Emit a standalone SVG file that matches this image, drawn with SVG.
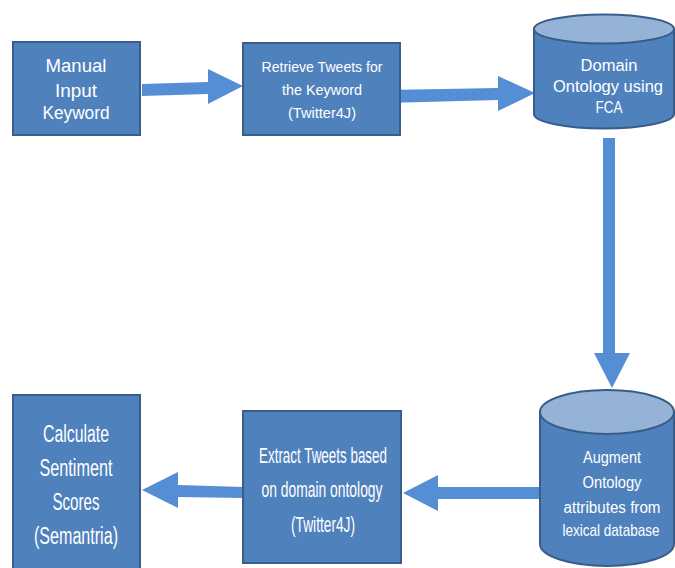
<svg xmlns="http://www.w3.org/2000/svg" width="675" height="568" viewBox="0 0 675 568">
<style>
.box{fill:#4F81BD;stroke:#385D8A;stroke-width:2}
.cyl{fill:#4F81BD;stroke:#385D8A;stroke-width:2}
.top{fill:#95B3D7;stroke:#385D8A;stroke-width:2}
.arr{fill:#558ED5;stroke:none}
text{font-family:"Liberation Sans",Arial,sans-serif;fill:#FFFFFF;text-anchor:middle}
.t1{font-size:18px}
.t2{font-size:15px}
.t3{font-size:16px}
.t4{font-size:23px}
.t5{font-size:22px}
.t6{font-size:16px}
</style>
<rect width="675" height="568" fill="#FFFFFF"/>
<g id="connectors">
<polygon class="arr" points="142,84 208,82 208,69 243,86 208,104 208,94 142,96"/>
<polygon class="arr" points="386,90 498,88 498,76 535,93 498,111 498,100 386,103"/>
<polygon class="arr" points="603,138 615,138 615,353 630,353 612,388 594,353 603,353"/>
<polygon class="arr" points="540,487 438,487 438,475 403,493 438,511 438,499 540,499"/>
<polygon class="arr" points="243,487 178,485 178,472 142,490 178,508 178,497 243,498"/>
</g>
<g id="manual-input">
<rect class="box" x="13" y="42" width="127" height="93"/>
<text class="t1" x="76" y="72" textLength="61" lengthAdjust="spacingAndGlyphs">Manual</text>
<text class="t1" x="76" y="97" textLength="42" lengthAdjust="spacingAndGlyphs">Input</text>
<text class="t1" x="76" y="119" textLength="67" lengthAdjust="spacingAndGlyphs">Keyword</text>
</g>
<g id="retrieve-tweets">
<rect class="box" x="243" y="43" width="157" height="92"/>
<text class="t2" x="322" y="72" textLength="121" lengthAdjust="spacingAndGlyphs">Retrieve Tweets for</text>
<text class="t2" x="322" y="95" textLength="80" lengthAdjust="spacingAndGlyphs">the Keyword</text>
<text class="t2" x="322" y="118" textLength="68" lengthAdjust="spacingAndGlyphs">(Twitter4J)</text>
</g>
<g id="domain-ontology">
<path class="cyl" d="M534,29 L534,114 A70,14.5 0 0 0 674,114 L674,29 Z"/>
<ellipse class="top" cx="604" cy="29" rx="70" ry="14.5"/>
<text class="t3" x="609" y="71" textLength="57" lengthAdjust="spacingAndGlyphs">Domain</text>
<text class="t3" x="608" y="92" textLength="110" lengthAdjust="spacingAndGlyphs">Ontology using</text>
<text class="t3" x="609" y="113" textLength="27" lengthAdjust="spacingAndGlyphs">FCA</text>
</g>
<g id="augment-ontology">
<path class="cyl" d="M540,412 L540,544 A67,22 0 0 0 674,544 L674,412 Z"/>
<ellipse class="top" cx="607" cy="412" rx="67" ry="22"/>
<text class="t6" x="612" y="463" textLength="58" lengthAdjust="spacingAndGlyphs">Augment</text>
<text class="t6" x="612" y="488" textLength="59" lengthAdjust="spacingAndGlyphs">Ontology</text>
<text class="t6" x="612" y="513" textLength="97" lengthAdjust="spacingAndGlyphs">attributes from</text>
<text class="t6" x="0" y="0" transform="translate(611,536) scale(0.845,1)">lexical database</text>
</g>
<g id="extract-tweets">
<rect class="box" x="243" y="411" width="158" height="152"/>
<text class="t5" x="323" y="463" textLength="128" lengthAdjust="spacingAndGlyphs">Extract Tweets based</text>
<text class="t5" x="322" y="497" textLength="121" lengthAdjust="spacingAndGlyphs">on domain ontology</text>
<text class="t5" x="323" y="532" textLength="64" lengthAdjust="spacingAndGlyphs">(Twitter4J)</text>
</g>
<g id="calculate-sentiment">
<rect class="box" x="13" y="395" width="127" height="180"/>
<text class="t4" x="76" y="442" textLength="66" lengthAdjust="spacingAndGlyphs">Calculate</text>
<text class="t4" x="76" y="476" textLength="73" lengthAdjust="spacingAndGlyphs">Sentiment</text>
<text class="t4" x="76" y="510" textLength="47" lengthAdjust="spacingAndGlyphs">Scores</text>
<text class="t4" x="76" y="544" textLength="84" lengthAdjust="spacingAndGlyphs">(Semantria)</text>
</g>
</svg>
